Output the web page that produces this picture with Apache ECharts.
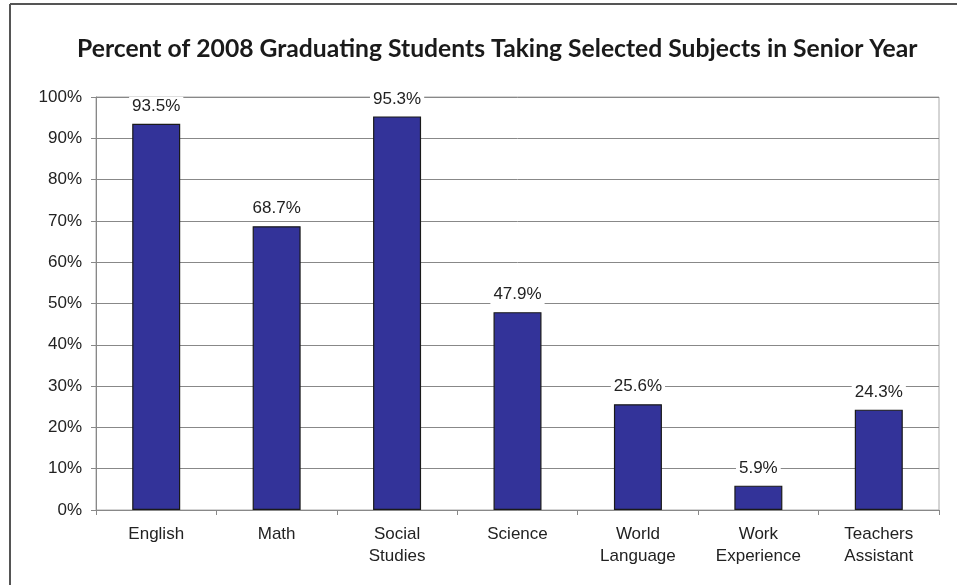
<!DOCTYPE html>
<html>
<head>
<meta charset="utf-8">
<script src="https://cdn.jsdelivr.net/npm/echarts@6/dist/echarts.min.js"></script>
<style>
html,body{margin:0;padding:0;background:#fff;}
#c{width:957px;height:585px;}
</style>
</head>
<body>
<div id="c"></div>
<script>
const titleText = 'Percent of 2008 Graduating Students Taking Selected Subjects in Senior Year';
const categories = ['English', 'Math', 'Social\nStudies', 'Science', 'World\nLanguage', 'Work\nExperience', 'Teachers\nAssistant'];
const percentValues = [93.5, 68.7, 95.3, 47.9, 25.6, 5.9, 24.3];

const chart = echarts.init(document.getElementById('c'), null, {renderer: 'canvas'});
chart.setOption({
  animation: false,
  backgroundColor: '#fff',
  title: {
    text: titleText,
    left: 72,
    top: 32,
    textStyle: {fontFamily: 'Lato', fontWeight: 'bold', fontSize: 24.7, color: '#1a1a1a'}
  },
  graphic: [
    {type: 'line', shape: {x1: 10, y1: 4, x2: 957, y2: 4}, style: {stroke: '#555', lineWidth: 2}},
    {type: 'line', shape: {x1: 10, y1: 4, x2: 10, y2: 585}, style: {stroke: '#555', lineWidth: 2}}
  ],
  grid: {
    left: 96, right: 18, top: 97, bottom: 75,
    show: true, borderColor: '#aaa', borderWidth: 1, backgroundColor: 'transparent'
  },
  xAxis: {
    type: 'category',
    data: categories,
    axisLine: {lineStyle: {color: '#888', width: 1}},
    axisTick: {show: true, length: 5, lineStyle: {color: '#888'}},
    axisLabel: {fontFamily: 'Liberation Sans', fontSize: 17, color: '#222', margin: 13, lineHeight: 22, interval: 0}
  },
  yAxis: {
    type: 'value',
    min: 0, max: 100, interval: 10,
    axisLine: {show: true, lineStyle: {color: '#888', width: 1}},
    axisTick: {show: true, length: 5, lineStyle: {color: '#888'}},
    axisLabel: {fontFamily: 'Liberation Sans', fontSize: 17, color: '#222', margin: 14, formatter: '{value}%'},
    splitLine: {lineStyle: {color: '#888', width: 1}}
  },
  series: [{
    type: 'bar',
    data: percentValues,
    barWidth: 48,
    itemStyle: {color: '#333399', borderColor: '#1a1a1a', borderWidth: 1.2},
    label: {
      show: true,
      position: 'top',
      distance: 8,
      fontFamily: 'Liberation Sans',
      fontSize: 17,
      color: '#222',
      backgroundColor: '#fff',
      padding: [1, 3],
      formatter: p => p.value.toFixed(1) + '%'
    }
  }]
});
</script>
</body>
</html>
